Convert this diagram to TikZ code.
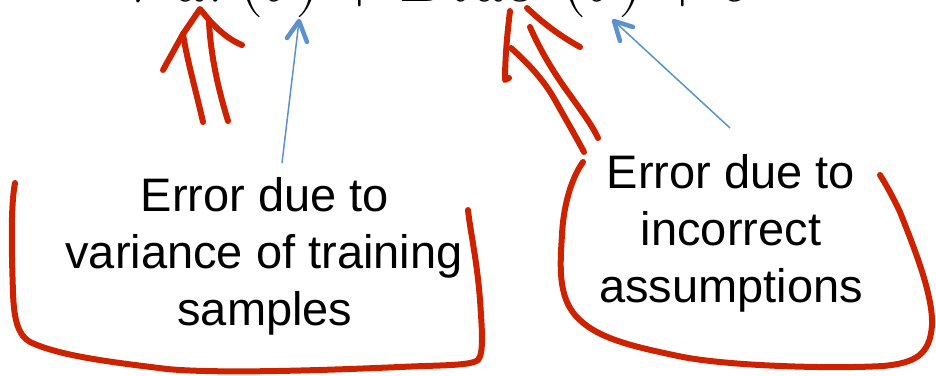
\documentclass[tikz,border=0pt]{standalone}
\usepackage{fontspec}
\usepackage{unicode-math}
\setmainfont{Liberation Sans}
\setmathfont{Latin Modern Math}
\definecolor{penred}{RGB}{204,34,0}
\definecolor{penblue}{RGB}{91,145,205}
\tikzset{
  txt/.style={anchor=base,inner sep=0pt,font=\fontsize{47}{56.7}\selectfont},
  ink/.style={draw=penred,line width=6pt,line cap=round,line join=round},
  shaft/.style={draw=penblue,line width=1.5pt},
  head/.style={draw=penblue,line width=4.5pt,line cap=round,line join=round},
}
\begin{document}
\begin{tikzpicture}[x=1pt,y=-1pt]
\useasboundingbox (0,0) rectangle (936,375);
\clip (0,0) rectangle (936,375);
% formula (cut off at the top, as in the reference)
\node[anchor=base west,inner sep=0pt,font=\fontsize{65}{78}\selectfont] (formula) at (122,1)
  {$Var(\theta)+Bias^2(\theta)+\sigma^2$};
% left text
\node[txt] (l1) at (265,211) {Error due to};
\node[txt] (l2) at (264,268) {variance of training};
\node[txt] (l3) at (265,325) {samples};
% right text
\node[txt] (r1) at (731,188) {Error due to};
\node[txt] (r2) at (731,245) {incorrect};
\node[txt] (r3) at (731,302) {assumptions};
% blue arrows
\coordinate (ltip) at (299,21);
\coordinate (ltail) at (282,163);
\coordinate (rtip) at (614,21);
\coordinate (rtail) at (730,128);
\draw[shaft] (ltail) -- (ltip);
\draw[head] (287,38) -- (ltip) -- (307,42);
\draw[shaft] (rtail) -- (rtip);
\draw[head] (620,41) -- (rtip) -- (633,27);
% left red strokes
\coordinate (apex) at (200,9);
\draw[ink] (163,70) -- (183,34) -- (apex) -- (210,21) .. controls (222,34) and (232,41) .. (242,45);
\draw[ink] (203,122) .. controls (197,95) and (187,60) .. (183,34);
\draw[ink] (228,121) .. controls (220,95) and (211,60) .. (209,22);
% right red strokes
\draw[ink] (510,11) .. controls (507,35) and (505,60) .. (505,80) -- (509,78);
\draw[ink] (511,48) .. controls (530,65) and (545,82) .. (555,100) .. controls (565,118) and (575,135) .. (584,152);
\draw[ink] (530,27) .. controls (540,50) and (555,75) .. (570,95) .. controls (582,112) and (592,125) .. (598,138);
\draw[ink] (527,8) .. controls (545,25) and (562,37) .. (580,47);
% left loop
\draw[ink] (15,183) .. controls (10,210) and (12,260) .. (13,293)
  .. controls (14,320) and (18,335) .. (30,342)
  .. controls (60,356) and (110,362) .. (167,369)
  .. controls (220,374) and (330,370) .. (400,367)
  .. controls (440,365) and (470,366) .. (478,360)
  .. controls (484,353) and (482,330) .. (480,300)
  .. controls (477,260) and (470,230) .. (468,210);
% right loop
\draw[ink] (583,162) .. controls (570,180) and (563,210) .. (562,235)
  .. controls (560,265) and (558,295) .. (575,315)
  .. controls (595,338) and (630,346) .. (683,357)
  .. controls (730,366) and (830,369) .. (883,366)
  .. controls (915,363) and (930,355) .. (932,325)
  .. controls (933,295) and (915,250) .. (900,212)
  .. controls (892,195) and (885,183) .. (880,175);
\end{tikzpicture}
\end{document}
